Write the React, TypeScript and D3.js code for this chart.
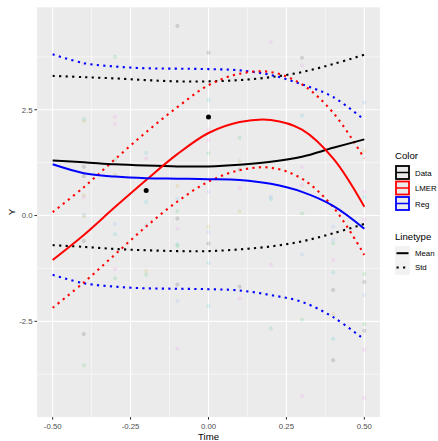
import React from "react";
import * as d3 from "d3";

const times = [-0.5, -0.4, -0.3, -0.2, -0.1, 0, 0.1, 0.2, 0.3, 0.4, 0.5];

const dataMean = [1.3, 1.26, 1.21, 1.18, 1.16, 1.16, 1.2, 1.27, 1.39, 1.6, 1.8];
const dataUpper = [3.3, 3.27, 3.24, 3.2, 3.17, 3.17, 3.2, 3.27, 3.39, 3.58, 3.8];
const dataLower = [-0.7, -0.74, -0.79, -0.82, -0.84, -0.84, -0.8, -0.73, -0.61, -0.42, -0.2];

const lmerMean = [-1.05, -0.46, 0.2, 0.84, 1.45, 1.95, 2.21, 2.26, 2.03, 1.35, 0.21];
const lmerUpper = [0.08, 0.67, 1.33, 1.97, 2.56, 3.08, 3.35, 3.39, 3.1, 2.43, 1.35];
const lmerLower = [-2.18, -1.58, -0.92, -0.26, 0.33, 0.8, 1.07, 1.13, 0.87, 0.2, -0.93];

const regMean = [1.21, 1.0, 0.92, 0.88, 0.87, 0.86, 0.84, 0.75, 0.56, 0.23, -0.31];
const regUpper = [3.81, 3.6, 3.52, 3.48, 3.47, 3.46, 3.43, 3.32, 3.1, 2.8, 2.26];
const regLower = [-1.4, -1.6, -1.68, -1.72, -1.73, -1.74, -1.77, -1.88, -2.04, -2.4, -2.93];

const obsTimes = [-0.2, 0];
const obsValues = [0.59, 2.33];

// faint individual observations: [time, value, group]
const pointTime = [
  -0.4, -0.4, -0.4, -0.4, -0.4, -0.4, -0.4, -0.4, -0.4, -0.4, -0.4, -0.4,
  -0.3, -0.3, -0.3, -0.3, -0.3, -0.3, -0.3, -0.3, -0.3,
  -0.2, -0.2, -0.2, -0.2, -0.2, -0.2,
  -0.1, -0.1, -0.1, -0.1, -0.1, -0.1, -0.1, -0.1, -0.1, -0.1, -0.1,
  0, 0, 0, 0, 0, 0, 0, 0, 0, 0, 0,
  0.1, 0.1, 0.1, 0.1, 0.1, 0.1, 0.1,
  0.2, 0.2, 0.2, 0.2, 0.2,
  0.3, 0.3, 0.3, 0.3, 0.3, 0.3, 0.3, 0.3, 0.3,
  0.4, 0.4, 0.4, 0.4, 0.4, 0.4, 0.4, 0.4, 0.4,
  0.5, 0.5, 0.5, 0.5, 0.5, 0.5, 0.5, 0.5, 0.5, 0.5, 0.5, 0.5,
];
const pointValue = [
  2.28, 2.23, 3.58, 1.15, 0.93, 0.48, 0.43, 0.02, -0.02, -0.6, -2.8, -3.54,
  3.75, 2.33, 2.16, 1.31, 0.97, -0.2, -0.44, -1.27, -1.48,
  1.48, 1.35, 0.32, -0.23, -1.31, -1.4,
  4.48, 0.7, 0.4, 0.1, -0.07, -0.31, -0.68, -0.72, -1.63, -2.02, -3.14,
  3.85, 2.73, 2.04, 1.78, 1.47, 0.56, -0.27, -0.39, -0.66, -1.12, -2.14,
  1.84, 1.29, 1.09, 0.65, 0.1, -1.68, -1.96,
  4.1, 0.44, 0.39, -1.16, -2.67,
  3.73, 3.55, 2.36, 1.15, 0.72, 0.05, -0.92, -2.46, -4.27,
  -0.26, -0.58, -0.66, -1.05, -1.34, -1.76, -2.33, -2.91, -3.42,
  2.67, 1.53, 0.56, 0.44, -0.09, -1.38, -1.57, -1.88, -2.57, -2.72, -3.17, -4.31,
];
const pointGroup = [
  "cyan", "yellow", "pink", "grey", "grey", "yellow", "pink", "blue", "yellow", "grey", "grey", "green",
  "green", "pink", "pink", "green", "yellow", "blue", "cyan", "pink", "green",
  "cyan", "pink", "cyan", "blue", "yellow", "green",
  "grey", "yellow", "blue", "green", "grey", "pink", "cyan", "green", "grey", "blue", "pink",
  "grey", "cyan", "pink", "pink", "green", "blue", "yellow", "blue", "grey", "cyan", "cyan",
  "green", "yellow", "grey", "pink", "yellow", "grey", "pink",
  "pink", "blue", "cyan", "pink", "green",
  "grey", "pink", "cyan", "pink", "pink", "green", "blue", "green", "pink",
  "blue", "blue", "green", "pink", "cyan", "grey", "yellow", "cyan", "grey",
  "blue", "yellow", "pink", "cyan", "pink", "green", "grey", "blue", "green", "grey", "pink", "pink",
];
const groupColors: Record<string, string> = {
  grey: "#000000",
  pink: "#F564E3",
  cyan: "#00BFC4",
  green: "#00BA38",
  yellow: "#B79F00",
  blue: "#619CFF",
};

const xTicks = [-0.5, -0.25, 0, 0.25, 0.5];
const xTickLabels = ["-0.50", "-0.25", "0.00", "0.25", "0.50"];
const xMinor = [-0.375, -0.125, 0.125, 0.375];
const yTicks = [-2.5, 0, 2.5];
const yTickLabels = ["-2.5", "0.0", "2.5"];
const yMinor = [-3.75, -1.25, 1.25, 3.75];

const colorLegend = ["Data", "LMER", "Reg"];
const colorValues = ["#000000", "#FF0000", "#0000FF"];
const linetypeLegend = ["Mean", "Std"];

const W = 438;
const H = 441;
const P = { left: 37.1, right: 379.9, top: 7.3, bottom: 417 };
const FONT = "Liberation Sans, Arial, sans-serif";
const DOT = "2.2 4.3";

export default function App() {
  const x = d3.scaleLinear().domain([-0.55, 0.55]).range([P.left, P.right]);
  const y = d3.scaleLinear().domain([-4.76, 4.92]).range([P.bottom, P.top]);
  const line = d3
    .line<[number, number]>()
    .x((d) => x(d[0]))
    .y((d) => y(d[1]))
    .curve(d3.curveCatmullRom.alpha(0.5));
  const path = (vals: number[]) => line(times.map((t, i) => [t, vals[i]] as [number, number])) || "";

  const series = [
    { vals: dataUpper, color: colorValues[0], dotted: true },
    { vals: dataLower, color: colorValues[0], dotted: true },
    { vals: regUpper, color: colorValues[2], dotted: true },
    { vals: regLower, color: colorValues[2], dotted: true },
    { vals: lmerUpper, color: colorValues[1], dotted: true },
    { vals: lmerLower, color: colorValues[1], dotted: true },
    { vals: dataMean, color: colorValues[0], dotted: false },
    { vals: lmerMean, color: colorValues[1], dotted: false },
    { vals: regMean, color: colorValues[2], dotted: false },
  ];

  const legX = 395;
  return (
    <svg width={W} height={H} style={{ position: "absolute", left: 0, top: 0 }} fontFamily={FONT}>
      <rect x={0} y={0} width={W} height={H} fill="#FFFFFF" />
      <rect x={P.left} y={P.top} width={P.right - P.left} height={P.bottom - P.top} fill="#EBEBEB" />
      {xMinor.map((t) => (
        <line key={"xm" + t} x1={x(t)} x2={x(t)} y1={P.top} y2={P.bottom} stroke="#FFFFFF" strokeWidth={0.55} />
      ))}
      {yMinor.map((v) => (
        <line key={"ym" + v} x1={P.left} x2={P.right} y1={y(v)} y2={y(v)} stroke="#FFFFFF" strokeWidth={0.55} />
      ))}
      {xTicks.map((t) => (
        <line key={"xg" + t} x1={x(t)} x2={x(t)} y1={P.top} y2={P.bottom} stroke="#FFFFFF" strokeWidth={1.1} />
      ))}
      {yTicks.map((v) => (
        <line key={"yg" + v} x1={P.left} x2={P.right} y1={y(v)} y2={y(v)} stroke="#FFFFFF" strokeWidth={1.1} />
      ))}
      {pointTime.map((t, i) => (
        <circle
          key={"p" + i}
          cx={x(t)}
          cy={y(pointValue[i])}
          r={1.7}
          fill={groupColors[pointGroup[i]]}
          fillOpacity={0.1}
          stroke={groupColors[pointGroup[i]]}
          strokeOpacity={0.15}
          strokeWidth={0.6}
        />
      ))}
      {series.map((s, i) => (
        <path
          key={"s" + i}
          d={path(s.vals)}
          fill="none"
          stroke={s.color}
          strokeWidth={s.dotted ? 2.1 : 2}
          strokeDasharray={s.dotted ? DOT : undefined}
        />
      ))}
      {obsTimes.map((t, i) => (
        <circle key={"o" + i} cx={x(t)} cy={y(obsValues[i])} r={2.5} fill="#000000" />
      ))}
      {xTicks.map((t, i) => (
        <g key={"xt" + t}>
          <line x1={x(t)} x2={x(t)} y1={P.bottom} y2={P.bottom + 2.7} stroke="#333333" strokeWidth={1} />
          <text x={x(t)} y={P.bottom + 11.5} textAnchor="middle" fontSize={7.8} fill="#4D4D4D">
            {xTickLabels[i]}
          </text>
        </g>
      ))}
      {yTicks.map((v, i) => (
        <g key={"yt" + v}>
          <line x1={P.left - 2.7} x2={P.left} y1={y(v)} y2={y(v)} stroke="#333333" strokeWidth={1} />
          <text x={P.left - 4.5} y={y(v) + 2.8} textAnchor="end" fontSize={7.8} fill="#4D4D4D">
            {yTickLabels[i]}
          </text>
        </g>
      ))}
      <text x={(P.left + P.right) / 2} y={440} textAnchor="middle" fontSize={9.6} fill="#000000">
        Time
      </text>
      <text transform={`translate(15, ${(P.top + P.bottom) / 2}) rotate(-90)`} textAnchor="middle" fontSize={9.6} fill="#000000">
        Y
      </text>

      <text x={legX} y={159} fontSize={9.6} fill="#000000">Color</text>
      {colorLegend.map((name, i) => {
        const ky = 165 + i * 15.5;
        return (
          <g key={"cl" + name}>
            <rect x={legX} y={ky} width={15} height={15} fill="#F2F2F2" />
            <rect x={legX + 1} y={ky + 1} width={13} height={13} fill="#EBEBEB" stroke={colorValues[i]} strokeWidth={1.8} />
            <line x1={legX + 1} x2={legX + 14} y1={ky + 7.5} y2={ky + 7.5} stroke={colorValues[i]} strokeWidth={1.5} />
            <text x={legX + 20} y={ky + 10.5} fontSize={7.8} fill="#000000">{name}</text>
          </g>
        );
      })}
      <text x={legX} y={240} fontSize={9.6} fill="#000000">Linetype</text>
      {linetypeLegend.map((name, i) => {
        const ky = 246 + i * 14.4;
        return (
          <g key={"lt" + name}>
            <rect x={legX} y={ky} width={15} height={14.4} fill="#F2F2F2" />
            <line
              x1={legX + 1.5}
              x2={legX + 13.5}
              y1={ky + 7.2}
              y2={ky + 7.2}
              stroke="#000000"
              strokeWidth={2}
              strokeDasharray={i === 1 ? DOT : undefined}
            />
            <text x={legX + 20} y={ky + 10} fontSize={7.8} fill="#000000">{name}</text>
          </g>
        );
      })}
    </svg>
  );
}
